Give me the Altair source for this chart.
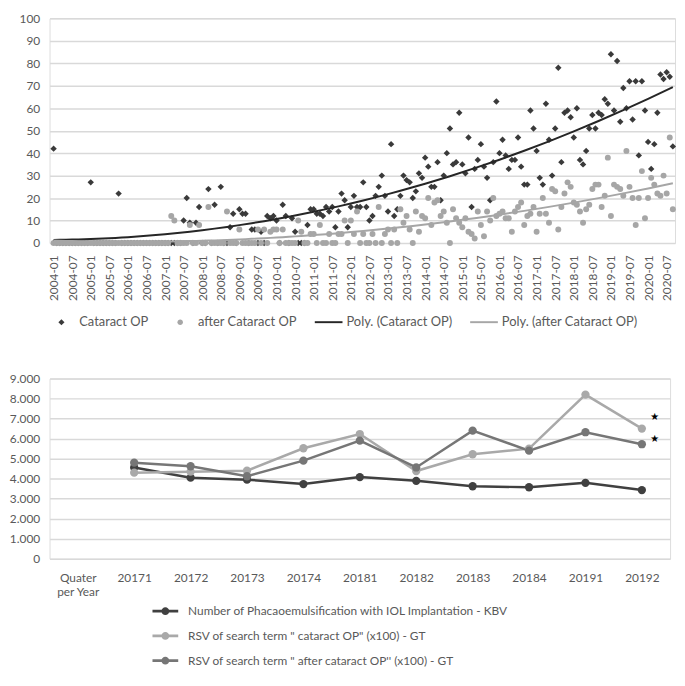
import altair as alt
import pandas as pd

# ---------------- top chart data (monthly, 2004-01 .. 2020-09) ----------------
months = [f"{y}-{m:02d}" for y in range(2004, 2021) for m in range(1, 13)][:201]

cat_2004 = [42, 0, 0, 0, 0, 0, 0, 0, 0, 0, 0, 0]
cat_2005 = [27, 0, 0, 0, 0, 0, 0, 0, 0, 22, 0, 0]
cat_2006 = [0, 0, 0, 0, 0, 0, 0, 0, 0, 0, 0, 0]
cat_2007 = [0, 0, 0, 0, 0, 0, 10, 20, 9, 0, 9, 16]
cat_2008 = [0, 0, 24, 0, 17, 0, 25, 0, 0, 7, 13, 0]
cat_2009 = [15, 13, 13, 0, 6, 6, 0, 5, 0, 12, 11, 12]
cat_2010 = [10, 0, 17, 12, 0, 11, 5, 0, 0, 0, 8, 15]
cat_2011 = [15, 13, 13, 12, 16, 14, 16, 7, 14, 22, 19, 7]
cat_2012 = [16, 21, 16, 16, 27, 16, 10, 12, 21, 25, 30, 21]
cat_2013 = [14, 44, 12, 15, 21, 30, 28, 27, 20, 23, 31, 29]
cat_2014 = [38, 34, 25, 25, 36, 19, 30, 40, 51, 35, 36, 58]
cat_2015 = [35, 31, 47, 16, 33, 37, 44, 34, 29, 19, 36, 63]
cat_2016 = [40, 46, 39, 33, 37, 37, 47, 34, 26, 26, 59, 51]
cat_2017 = [41, 29, 26, 62, 46, 30, 51, 78, 36, 58, 59, 56]
cat_2018 = [47, 60, 37, 35, 41, 51, 57, 51, 58, 57, 64, 62]
cat_2019 = [84, 59, 81, 54, 69, 60, 72, 55, 72, 39, 72, 59]
cat_2020 = [45, 33, 44, 58, 75, 73, 76, 74, 43]

aft_2004 = [0, 0, 0, 0, 0, 0, 0, 0, 0, 0, 0, 0]
aft_2005 = [0, 0, 0, 0, 0, 0, 0, 0, 0, 0, 0, 0]
aft_2006 = [0, 0, 0, 0, 0, 0, 0, 0, 0, 0, 0, 0]
aft_2007 = [0, 0, 12, 10, 0, 0, 0, 0, 8, 0, 0, 8]
aft_2008 = [0, 0, 16, 0, 0, 0, 0, 0, 14, 0, 0, 0]
aft_2009 = [6, 0, 0, 0, 0, 0, 6, 0, 6, 0, 5, 6]
aft_2010 = [6, 0, 6, 0, 0, 0, 0, 10, 5, 0, 0, 4]
aft_2011 = [4, 0, 8, 0, 0, 4, 0, 0, 4, 4, 10, 0]
aft_2012 = [10, 4, 14, 0, 4, 0, 0, 4, 0, 16, 0, 4]
aft_2013 = [6, 0, 6, 0, 15, 9, 12, 6, 0, 14, 5, 12]
aft_2014 = [11, 20, 8, 18, 19, 12, 14, 9, 0, 15, 11, 9]
aft_2015 = [7, 11, 5, 4, 2, 14, 8, 3, 14, 10, 20, 12]
aft_2016 = [13, 14, 11, 11, 5, 14, 16, 18, 8, 12, 13, 16]
aft_2017 = [5, 13, 20, 13, 9, 24, 23, 6, 16, 22, 27, 25]
aft_2018 = [18, 17, 14, 9, 15, 17, 24, 26, 26, 16, 21, 38]
aft_2019 = [12, 26, 25, 24, 21, 41, 25, 20, 8, 20, 32, 11]
aft_2020 = [20, 29, 26, 22, 21, 30, 22, 47, 15]

cataract_op = (cat_2004 + cat_2005 + cat_2006 + cat_2007 + cat_2008 + cat_2009 +
               cat_2010 + cat_2011 + cat_2012 + cat_2013 + cat_2014 + cat_2015 +
               cat_2016 + cat_2017 + cat_2018 + cat_2019 + cat_2020)
after_op = (aft_2004 + aft_2005 + aft_2006 + aft_2007 + aft_2008 + aft_2009 +
            aft_2010 + aft_2011 + aft_2012 + aft_2013 + aft_2014 + aft_2015 +
            aft_2016 + aft_2017 + aft_2018 + aft_2019 + aft_2020)

# ---------------- bottom chart data ----------------
quarters = ["Quater per Year", "20171", "20172", "20173", "20174", "20181",
            "20182", "20183", "20184", "20191", "20192"]
data_quarters = quarters[1:]
kbv = [4560, 4050, 3950, 3730, 4080, 3890, 3620, 3570, 3790, 3430]
rsv_cataract = [4300, 4350, 4400, 5520, 6230, 4380, 5220, 5500, 8200, 6500]
rsv_after = [4800, 4620, 4120, 4900, 5900, 4560, 6400, 5400, 6320, 5720]
star_quarter = ["20192", "20192"]
star_values = [7100, 6000]

bottom_series = ["Number of Phacaoemulsification with IOL Implantation - KBV",
                 "RSV of search term \" cataract OP\" (x100) - GT",
                 "RSV of search term \" after cataract OP'' (x100) - GT"]

FONT = "Lato"
TXT = "#595959"
GRID = "#d9d9d9"

# ---------------- top chart ----------------
n = len(months)
top_df = pd.DataFrame({
    "idx": list(range(n)) * 2,
    "month": months * 2,
    "value": cataract_op + after_op,
    "series": ["Cataract OP"] * n + ["after Cataract OP"] * n,
})

legend_domain = ["Cataract OP", "after Cataract OP",
                 "Poly. (Cataract OP)", "Poly. (after Cataract OP)"]
legend_colors = ["#3a3a3a", "#a6a6a6", "#262626", "#a6a6a6"]
line_path = "M-1,-0.07L1,-0.07L1,0.07L-1,0.07Z"
diamond_path = "M0,-0.22L0.22,0L0,0.22L-0.22,0Z"
circle_path = "M-0.2,0A0.2,0.2 0 1,1 0.2,0A0.2,0.2 0 1,1 -0.2,0Z"
color_scale = alt.Scale(domain=legend_domain, range=legend_colors)
shape_scale = alt.Scale(domain=legend_domain[:2], range=["diamond", "circle"])
size_scale = alt.Scale(domain=legend_domain[:2], range=[42, 36])

symbol_expr = ("datum.value == 'Cataract OP' ? '" + diamond_path + "' : "
               "datum.value == 'after Cataract OP' ? '" + circle_path + "' : '" + line_path + "'")

top_legend = alt.Legend(
    title=None, orient="none", legendX=-2, legendY=293,
    direction="horizontal", columnPadding=18,
    labelFont=FONT, labelFontSize=13, labelColor=TXT, labelLimit=400,
    symbolType=alt.ExprRef(expr=symbol_expr),
    symbolSize=784, symbolStrokeWidth=0, labelOffset=4,
)

tick_vals = list(range(0, n, 6))
x_top = alt.X("idx:Q",
              scale=alt.Scale(domain=[-1.3, 200.7], nice=False, zero=False),
              axis=alt.Axis(title=None, values=tick_vals, grid=False, domain=False,
                            ticks=False, labelAngle=-90, labelFont=FONT,
                            labelFontSize=12, labelColor=TXT, labelPadding=12,
                            labelOverlap=False, tickCount=len(tick_vals),
                            labelExpr="timeFormat(datetime(2004, datum.value, 1), '%Y-%m')"))
y_top = alt.Y("value:Q",
              scale=alt.Scale(domain=[0, 100], nice=False),
              axis=alt.Axis(title=None, values=list(range(0, 101, 10)), grid=True,
                            tickCount=11,
                            gridColor=GRID, gridWidth=1.5, domain=False, ticks=False,
                            labelFont=FONT, labelFontSize=12, labelColor=TXT,
                            labelPadding=10, labelOverlap=False))

points = alt.Chart(top_df).mark_point(filled=True, opacity=1).encode(
    x=x_top,
    y=y_top,
    color=alt.Color("series:N", scale=color_scale, legend=top_legend),
    shape=alt.Shape("series:N", scale=shape_scale, legend=None),
    size=alt.Size("series:N", scale=size_scale, legend=None),
)

trends = alt.Chart(top_df).transform_regression(
    "idx", "value", method="poly", order=2, groupby=["series"], extent=[0, n - 1]
).transform_calculate(
    series="'Poly. (' + datum.series + ')'"
).mark_line(strokeWidth=2, clip=True).encode(
    x=x_top,
    y=y_top,
    color=alt.Color("series:N", scale=color_scale, legend=None),
)

top = alt.layer(points, trends).resolve_legend(
    color="independent", shape="independent", size="independent"
).properties(width=632, height=227)

# ---------------- bottom chart ----------------
bottom_df = pd.DataFrame({
    "quarter": data_quarters * 3,
    "value": kbv + rsv_cataract + rsv_after,
    "series": [bottom_series[0]] * 10 + [bottom_series[1]] * 10 + [bottom_series[2]] * 10,
    "order": [0] * 10 + [1] * 10 + [2] * 10,
})
star_df = pd.DataFrame({"quarter": star_quarter, "value": star_values, "mark": ["★", "★"]})

b_colors = ["#404040", "#a9a9a9", "#767676"]
b_color = alt.Scale(domain=bottom_series, range=b_colors)
leg_path = ("M-1,-0.1L1,-0.1L1,0.1L-1,0.1Z "
            "M-0.3,0A0.3,0.3 0 1,1 0.3,0A0.3,0.3 0 1,1 -0.3,0Z")
bottom_legend = alt.Legend(
    title=None, orient="none", legendX=104, legendY=222,
    direction="vertical", rowPadding=6,
    symbolType=leg_path, symbolSize=676, symbolStrokeWidth=0,
    labelFont=FONT, labelFontSize=12, labelColor=TXT, labelOffset=10,
    labelLimit=500,
)

x_bot = alt.X("quarter:N",
              scale=alt.Scale(domain=quarters, padding=0.5),
              axis=alt.Axis(title=None, labelAngle=0, grid=False, domain=False,
                            ticks=False, labelFont=FONT, labelFontSize=12,
                            labelColor=TXT, labelPadding=14, labelBaseline="top",
                            labelOverlap=False,
                            labelExpr="datum.value == 'Quater per Year' ? ['Quater', 'per Year'] : datum.value"))
y_bot = alt.Y("value:Q",
              scale=alt.Scale(domain=[0, 9000], nice=False),
              axis=alt.Axis(title=None, values=list(range(0, 9001, 1000)), grid=True,
                            tickCount=10,
                            gridColor=GRID, gridWidth=1.5, domain=False, ticks=False,
                            labelFont=FONT, labelFontSize=12, labelColor=TXT,
                            labelPadding=10, labelOverlap=False,
                            labelExpr="replace(format(datum.value, ','), ',', '.')"))

b_lines = alt.Chart(bottom_df).mark_line(strokeWidth=2.5).encode(
    x=x_bot, y=y_bot,
    color=alt.Color("series:N", scale=b_color, legend=None),
    order="order:Q",
)
b_points = alt.Chart(bottom_df).mark_point(filled=True, size=70, opacity=1).encode(
    x=x_bot, y=y_bot,
    color=alt.Color("series:N", scale=b_color, legend=bottom_legend),
    order="order:Q",
)
stars = alt.Chart(star_df).mark_text(fontSize=10, color="black", dx=13, font="DejaVu Sans").encode(
    x=x_bot,
    y=y_bot,
    text="mark:N",
)

bottom = alt.layer(b_lines, b_points, stars).resolve_legend(
    color="independent"
).properties(width=627, height=182)

chart = alt.concat(top, bottom, columns=1, spacing=42, align="none").resolve_scale(
    color="independent", x="independent", y="independent"
).properties(padding=0).configure_view(stroke=None).configure(font=FONT)

chart.save("out.html", embed_options={"renderer": "svg", "actions": False})
